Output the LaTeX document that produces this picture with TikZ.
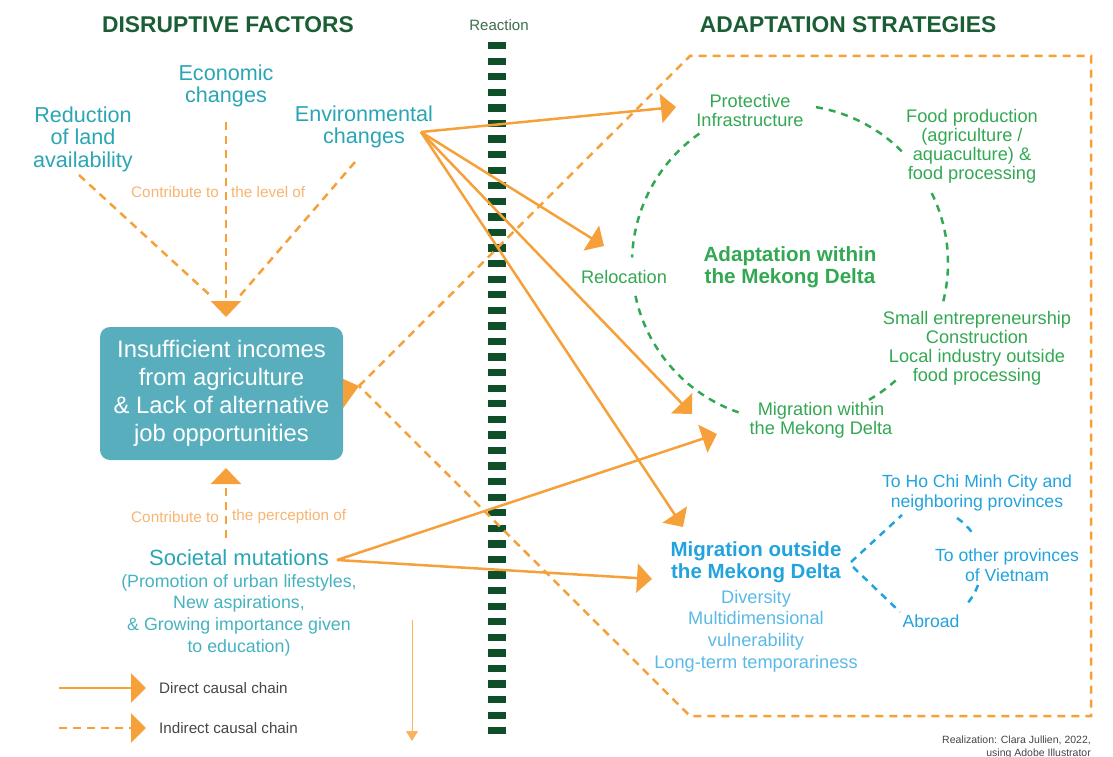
\documentclass[tikz,border=0pt]{standalone}
\usepackage{fontspec}
\setmainfont{Liberation Sans}
\usepackage{tikz}
\usetikzlibrary{positioning}
\usetikzlibrary{arrows.meta}

\definecolor{titlegreen}{HTML}{1B5E35}
\definecolor{bargreen}{HTML}{0E4F2A}
\definecolor{reactgreen}{HTML}{3D6B4C}
\definecolor{tealtext}{HTML}{2AA5B5}
\definecolor{tealsub}{HTML}{45B2C0}
\definecolor{boxteal}{HTML}{58AEBD}
\definecolor{orangeline}{HTML}{F6A03A}
\definecolor{orangetext}{HTML}{F8B470}
\definecolor{stratgreen}{HTML}{33A852}
\definecolor{migblue}{HTML}{22A3DD}
\definecolor{lightblue}{HTML}{5BB9E6}
\definecolor{legendgray}{HTML}{454545}

\tikzset{%
  heading/.style={
    inner sep=0pt,
    text=titlegreen,
    font=\bfseries\fontsize{22.8}{26}\selectfont
  },
  factor/.style={
    inner sep=0pt,
    align=center,
    text=tealtext,
    font=\fontsize{21.6}{22.5}\selectfont
  },
  contrib/.style={
    inner sep=0pt,
    text=orangetext,
    font=\fontsize{15.3}{17}\selectfont
  },
  strat/.style={
    inner sep=0pt,
    align=center,
    text=stratgreen,
    font=\fontsize{18.2}{19}\selectfont
  },
  dest/.style={
    inner sep=0pt,
    align=center,
    text=migblue,
    font=\fontsize{17.6}{19.5}\selectfont
  },
  legendtext/.style={
    inner sep=0pt,
    text=legendgray,
    font=\fontsize{15.2}{17}\selectfont
  },
}

\begin{document}
\begin{tikzpicture}[x=1pt,y=-1pt]
      \tikzstyle{direct} = [draw=orangeline, line width=2.5pt, -{Triangle[length=15pt,width=29pt]}]
      \tikzstyle{indirect} = [draw=orangeline, line width=2.5pt, dash pattern=on 8pt off 6pt]
      \tikzstyle{ring} = [draw=stratgreen, line width=2.5pt, dash pattern=on 7pt off 6pt]
      \tikzstyle{route} = [draw=migblue, line width=2.5pt, dash pattern=on 7pt off 6pt]

      \useasboundingbox (0,0) rectangle (1113,757);

      % Headings
      \node[heading] (disrupt) at (228,25) {DISRUPTIVE FACTORS};
      \node[heading] (adapt) at (848,25) {ADAPTATION STRATEGIES};
      \node[inner sep=0pt,text=reactgreen,font=\fontsize{15}{17}\selectfont] (react) at (499,25) {Reaction};

      % Reaction bar
      \coordinate (bartop) at (497,42);
      \coordinate (barbottom) at (497,734);
      \draw[bargreen, line width=18pt, dash pattern=on 7.3pt off 8.27pt] (bartop) -- (barbottom);

      % Disruptive factors
      \node[factor] (land) at (83,139) {Reduction\\of land\\availability};
      \node[factor] (econ) at (226,86) {Economic\\changes};
      \node[factor] (envir) at (364,127) {Environmental\\changes};

      \coordinate (levelTip) at (226,317);
      \coordinate (econFoot) at (226,122);
      \coordinate (landFoot) at (79,175);
      \coordinate (landEnd) at (213,298);
      \coordinate (envFoot) at (355,162);
      \coordinate (envEnd) at (238,298);
      \path[indirect] (landFoot) -- (landEnd);
      \path[indirect] (envFoot) -- (envEnd);
      \path[indirect, -{Triangle[length=16pt,width=30pt]}] (econFoot) -- (levelTip);
      \node[contrib, anchor=east] (levelA) at (219,192) {Contribute to};
      \node[contrib, anchor=west] (levelB) at (231,192) {the level of};

      % Insufficient incomes
      \node[inner sep=0pt, fill=boxteal, rounded corners=10pt, minimum width=243pt, minimum height=133pt,
            align=center, text=white, font=\fontsize{23.8}{27.8}\selectfont] (income) at (221.5,393.5)
            {Insufficient incomes\\from agriculture\\\& Lack of alternative\\job opportunities};
      \coordinate (boxTip) at (359,386);
      \fill[orangeline] ([yshift=-14.5]income.east) -- (boxTip) -- ([yshift=14.5]income.east) -- cycle;

      % Societal mutations
      \node[factor, font=\fontsize{22}{23}\selectfont] (soc) at (239,558) {Societal mutations};
      \node[factor, text=tealsub, font=\fontsize{17.8}{21.6}\selectfont] (socdetail) at (239,615)
            {(Promotion of urban lifestyles,\\New aspirations,\\\& Growing importance given\\to education)};
      \coordinate (socFoot) at (226,538);
      \coordinate (perceptionTip) at (226,468);
      \path[indirect, -{Triangle[length=16pt,width=30pt]}] (socFoot) -- (perceptionTip);
      \node[contrib, anchor=east] (percA) at (219,517) {Contribute to};
      \node[contrib, anchor=west] (percB) at (232,517) {the perception of};

      % Frame round the strategies
      \coordinate (frameNW) at (690,56);
      \coordinate (frameNE) at (1091,56);
      \coordinate (frameSE) at (1091,716);
      \coordinate (frameSW) at (690,716);
      \path[indirect] (boxTip) -- (frameNW) -- (frameNE) -- (frameSE) -- (frameSW) -- cycle;

      % Adaptation within the Mekong Delta
      \node[strat] (protect) at (750,110) {Protective\\Infrastructure};
      \node[strat] (food) at (972,146) {Food production\\(agriculture /\\aquaculture) \&\\food processing};
      \node[strat] (reloc) at (624,277) {Relocation};
      \node[strat, font=\bfseries\fontsize{20.6}{22}\selectfont] (within) at (790,267) {Adaptation within\\the Mekong Delta};
      \node[strat] (jobs) at (977,348) {Small entrepreneurship\\Construction\\Local industry outside\\food processing};
      \node[strat] (migwithin) at (821,420) {Migration within\\the Mekong Delta};

      \draw[ring] plot[domain=45:81, samples=25] ({790+158*cos(\x)},{263-158*sin(\x)});
      \draw[ring] plot[domain=-14:28, samples=25] ({790+158*cos(\x)},{263-158*sin(\x)});
      \draw[ring] plot[domain=-60:-46, samples=10] ({790+158*cos(\x)},{263-158*sin(\x)});
      \draw[ring] plot[domain=192:251, samples=30] ({790+158*cos(\x)},{263-158*sin(\x)});
      \draw[ring] plot[domain=125:178, samples=30] ({790+158*cos(\x)},{263-158*sin(\x)});

      % Migration outside the Mekong Delta
      \node[strat, text=migblue, font=\bfseries\fontsize{20.5}{22}\selectfont] (migout) at (756,562) {Migration outside\\the Mekong Delta};
      \node[strat, text=lightblue, font=\fontsize{18.2}{21.7}\selectfont] (migtraits) at (756,631)
            {Diversity\\Multidimensional\\vulnerability\\Long-term temporariness};
      \node[dest] (hcmc) at (977,493) {To Ho Chi Minh City and\\neighboring provinces};
      \node[dest] (provinces) at (1007,565) {To other provinces\\of Vietnam};
      \node[dest] (abroad) at (931,621) {Abroad};

      \coordinate (routeW) at (851,562);
      \coordinate (routeN) at (902,515);
      \coordinate (routeNE) at (957,518);
      \coordinate (routeE) at (973,534);
      \coordinate (routeSE) at (978,585);
      \coordinate (routeS) at (966,605);
      \coordinate (routeSW) at (853,567);
      \coordinate (routeA) at (900,612);
      \path[route] (routeW) -- (routeN);
      \path[route] (routeNE) to[bend left=10] (routeE);
      \path[route] (routeSE) to[bend left=10] (routeS);
      \path[route] (routeSW) -- (routeA);

      % Direct causal chains
      \coordinate (envout) at (421,132);
      \coordinate (socout) at (337,560);
      \coordinate (toProtect) at (676,107);
      \coordinate (toReloc) at (604,246);
      \coordinate (toWithinA) at (692,414);
      \coordinate (toOutsideA) at (683,527);
      \coordinate (toWithinB) at (717,434);
      \coordinate (toOutsideB) at (652,579);
      \path[direct] (envout) -- (toProtect);
      \path[direct] (envout) -- (toReloc);
      \path[direct] (envout) -- (toWithinA);
      \path[direct] (envout) -- (toOutsideA);
      \path[direct] (socout) -- (toWithinB);
      \path[direct] (socout) -- (toOutsideB);

      % Legend
      \coordinate (directA) at (59,688);
      \coordinate (directB) at (146,688);
      \coordinate (indirectA) at (59,728);
      \coordinate (indirectB) at (146,728);
      \path[direct] (directA) -- (directB);
      \path[indirect, -{Triangle[length=15pt,width=29pt]}] (indirectA) -- (indirectB);
      \node[legendtext, right=13pt of directB] (directtxt) {Direct causal chain};
      \node[legendtext, right=13pt of indirectB] (indirecttxt) {Indirect causal chain};

      \coordinate (stubtop) at (412,620);
      \coordinate (stubend) at (412,741);
      \draw[orangeline!80, line width=1pt, -{Triangle[length=10pt,width=12pt]}] (stubtop) -- (stubend);

      % Credit
      \node[inner sep=0pt, anchor=north east, align=right, text=legendgray, font=\fontsize{10.5}{13}\selectfont] (credit)
            at (1091,736) {Realization: Clara Jullien, 2022,\\using Adobe Illustrator};
    \end{tikzpicture}
\end{document}
